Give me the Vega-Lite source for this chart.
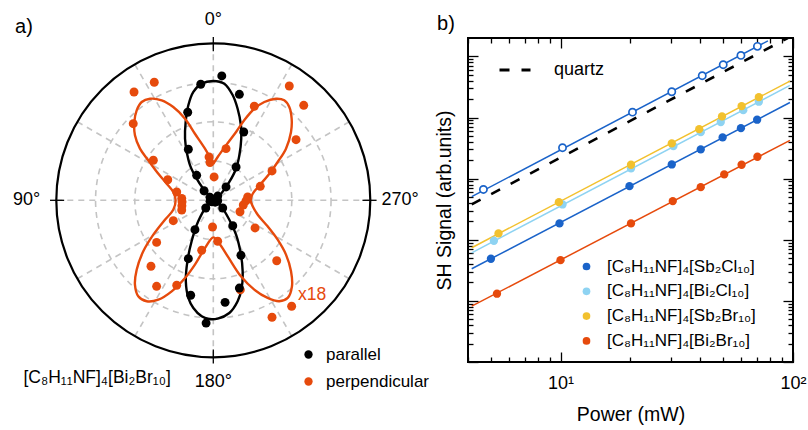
{
  "$schema": "https://vega.github.io/schema/vega-lite/v6.json",
  "width": 325,
  "height": 324,
  "autosize": {"type": "none"},
  "padding": {"left": 468, "top": 38, "right": 15, "bottom": 68},
  "background": "white",
  "config": {
    "font": "Liberation Sans",
    "view": {"stroke": "black", "strokeWidth": 2},
    "axis": {"grid": false, "domain": false, "tickColor": "black", "tickWidth": 1.3, "labelColor": "black", "titleColor": "black", "titleFontWeight": "normal"},
    "legend": {"padding": 0, "labelColor": "black", "labelFont": "Liberation Sans"}
  },
  "resolve": {
    "scale": {"x": "independent", "y": "independent", "color": "independent", "size": "independent"},
    "axis": {"x": "independent", "y": "independent"},
    "legend": {"color": "independent"}
  },
  "datasets": {
    "polarPoints": [
      {"pol": "perpendicular", "x": -0.505, "y": 0.690},
      {"pol": "perpendicular", "x": -0.376, "y": 0.752},
      {"pol": "perpendicular", "x": -0.510, "y": 0.488},
      {"pol": "perpendicular", "x": -0.382, "y": 0.255},
      {"pol": "perpendicular", "x": -0.290, "y": 0.131},
      {"pol": "perpendicular", "x": -0.233, "y": 0.053},
      {"pol": "perpendicular", "x": -0.201, "y": 0.012},
      {"pol": "perpendicular", "x": -0.027, "y": 0.276},
      {"pol": "perpendicular", "x": -0.021, "y": 0.240},
      {"pol": "perpendicular", "x": 0.005, "y": 0.149},
      {"pol": "perpendicular", "x": 0.484, "y": 0.728},
      {"pol": "perpendicular", "x": 0.576, "y": 0.605},
      {"pol": "perpendicular", "x": 0.261, "y": 0.599},
      {"pol": "perpendicular", "x": 0.527, "y": 0.386},
      {"pol": "perpendicular", "x": 0.081, "y": 0.329},
      {"pol": "perpendicular", "x": 0.374, "y": 0.187},
      {"pol": "perpendicular", "x": 0.299, "y": 0.089},
      {"pol": "perpendicular", "x": 0.219, "y": 0.021},
      {"pol": "perpendicular", "x": 0.208, "y": -0.004},
      {"pol": "perpendicular", "x": 0.191, "y": -0.030},
      {"pol": "perpendicular", "x": 0.170, "y": -0.073},
      {"pol": "perpendicular", "x": -0.005, "y": -0.170},
      {"pol": "perpendicular", "x": 0.028, "y": -0.261},
      {"pol": "perpendicular", "x": 0.266, "y": -0.176},
      {"pol": "perpendicular", "x": 0.404, "y": -0.385},
      {"pol": "perpendicular", "x": 0.499, "y": -0.675},
      {"pol": "perpendicular", "x": 0.374, "y": -0.745},
      {"pol": "perpendicular", "x": 0.172, "y": -0.570},
      {"pol": "perpendicular", "x": -0.199, "y": -0.010},
      {"pol": "perpendicular", "x": -0.200, "y": -0.035},
      {"pol": "perpendicular", "x": -0.201, "y": -0.062},
      {"pol": "perpendicular", "x": -0.255, "y": -0.130},
      {"pol": "perpendicular", "x": -0.361, "y": -0.268},
      {"pol": "perpendicular", "x": -0.397, "y": -0.420},
      {"pol": "perpendicular", "x": -0.361, "y": -0.548},
      {"pol": "perpendicular", "x": -0.233, "y": -0.541},
      {"pol": "perpendicular", "x": -0.074, "y": -0.318},
      {"pol": "parallel", "x": -0.080, "y": 0.739},
      {"pol": "parallel", "x": -0.163, "y": 0.561},
      {"pol": "parallel", "x": -0.159, "y": 0.325},
      {"pol": "parallel", "x": -0.106, "y": 0.159},
      {"pol": "parallel", "x": -0.059, "y": 0.061},
      {"pol": "parallel", "x": -0.021, "y": 0.019},
      {"pol": "parallel", "x": 0.054, "y": 0.792},
      {"pol": "parallel", "x": 0.166, "y": 0.675},
      {"pol": "parallel", "x": 0.194, "y": 0.435},
      {"pol": "parallel", "x": 0.145, "y": 0.212},
      {"pol": "parallel", "x": 0.081, "y": 0.085},
      {"pol": "parallel", "x": 0.028, "y": 0.027},
      {"pol": "parallel", "x": -0.021, "y": -0.006},
      {"pol": "parallel", "x": -0.048, "y": -0.049},
      {"pol": "parallel", "x": -0.117, "y": -0.187},
      {"pol": "parallel", "x": -0.159, "y": -0.372},
      {"pol": "parallel", "x": -0.144, "y": -0.605},
      {"pol": "parallel", "x": -0.046, "y": -0.782},
      {"pol": "parallel", "x": 0.028, "y": -0.003},
      {"pol": "parallel", "x": 0.060, "y": -0.049},
      {"pol": "parallel", "x": 0.124, "y": -0.162},
      {"pol": "parallel", "x": 0.176, "y": -0.350},
      {"pol": "parallel", "x": 0.166, "y": -0.559},
      {"pol": "parallel", "x": 0.075, "y": -0.650},
      {"pol": "parallel", "x": 0.004, "y": 0.006},
      {"pol": "parallel", "x": -0.008, "y": -0.010},
      {"pol": "parallel", "x": 0.012, "y": -0.012}
    ],
    "parallelFit": [
      {"lobe": "top", "o": 1, "x": 0.000, "y": 0.000},
      {"lobe": "top", "o": 2, "x": 0.049, "y": 0.042},
      {"lobe": "top", "o": 3, "x": 0.102, "y": 0.117},
      {"lobe": "top", "o": 4, "x": 0.145, "y": 0.201},
      {"lobe": "top", "o": 5, "x": 0.166, "y": 0.287},
      {"lobe": "top", "o": 6, "x": 0.178, "y": 0.392},
      {"lobe": "top", "o": 7, "x": 0.176, "y": 0.478},
      {"lobe": "top", "o": 8, "x": 0.155, "y": 0.583},
      {"lobe": "top", "o": 9, "x": 0.124, "y": 0.669},
      {"lobe": "top", "o": 10, "x": 0.070, "y": 0.743},
      {"lobe": "top", "o": 11, "x": 0.000, "y": 0.760},
      {"lobe": "top", "o": 12, "x": -0.074, "y": 0.743},
      {"lobe": "top", "o": 13, "x": -0.127, "y": 0.690},
      {"lobe": "top", "o": 14, "x": -0.159, "y": 0.605},
      {"lobe": "top", "o": 15, "x": -0.176, "y": 0.499},
      {"lobe": "top", "o": 16, "x": -0.180, "y": 0.392},
      {"lobe": "top", "o": 17, "x": -0.169, "y": 0.308},
      {"lobe": "top", "o": 18, "x": -0.148, "y": 0.223},
      {"lobe": "top", "o": 19, "x": -0.106, "y": 0.138},
      {"lobe": "top", "o": 20, "x": -0.064, "y": 0.074},
      {"lobe": "top", "o": 21, "x": -0.010, "y": 0.010},
      {"lobe": "top", "o": 22, "x": 0.000, "y": 0.000},
      {"lobe": "bottom", "o": 1, "x": 0.000, "y": 0.000},
      {"lobe": "bottom", "o": 2, "x": 0.049, "y": -0.038},
      {"lobe": "bottom", "o": 3, "x": 0.102, "y": -0.124},
      {"lobe": "bottom", "o": 4, "x": 0.145, "y": -0.219},
      {"lobe": "bottom", "o": 5, "x": 0.176, "y": -0.346},
      {"lobe": "bottom", "o": 6, "x": 0.187, "y": -0.452},
      {"lobe": "bottom", "o": 7, "x": 0.181, "y": -0.559},
      {"lobe": "bottom", "o": 8, "x": 0.155, "y": -0.643},
      {"lobe": "bottom", "o": 9, "x": 0.102, "y": -0.718},
      {"lobe": "bottom", "o": 10, "x": 0.028, "y": -0.754},
      {"lobe": "bottom", "o": 11, "x": -0.030, "y": -0.756},
      {"lobe": "bottom", "o": 12, "x": -0.074, "y": -0.739},
      {"lobe": "bottom", "o": 13, "x": -0.127, "y": -0.686},
      {"lobe": "bottom", "o": 14, "x": -0.159, "y": -0.622},
      {"lobe": "bottom", "o": 15, "x": -0.175, "y": -0.516},
      {"lobe": "bottom", "o": 16, "x": -0.165, "y": -0.389},
      {"lobe": "bottom", "o": 17, "x": -0.138, "y": -0.261},
      {"lobe": "bottom", "o": 18, "x": -0.096, "y": -0.134},
      {"lobe": "bottom", "o": 19, "x": -0.042, "y": -0.038},
      {"lobe": "bottom", "o": 20, "x": 0.000, "y": 0.000}
    ],
    "perpendicularFit": [
      {"o": 1, "x": 0.000, "y": 0.232}, {"o": 2, "x": 0.028, "y": 0.276}, {"o": 3, "x": 0.081, "y": 0.350},
      {"o": 4, "x": 0.145, "y": 0.435}, {"o": 5, "x": 0.197, "y": 0.510}, {"o": 6, "x": 0.261, "y": 0.583},
      {"o": 7, "x": 0.325, "y": 0.626}, {"o": 8, "x": 0.399, "y": 0.647}, {"o": 9, "x": 0.452, "y": 0.637},
      {"o": 10, "x": 0.484, "y": 0.594}, {"o": 11, "x": 0.499, "y": 0.520}, {"o": 12, "x": 0.495, "y": 0.435},
      {"o": 13, "x": 0.463, "y": 0.329}, {"o": 14, "x": 0.410, "y": 0.244}, {"o": 15, "x": 0.357, "y": 0.169},
      {"o": 16, "x": 0.304, "y": 0.106}, {"o": 17, "x": 0.251, "y": 0.042}, {"o": 18, "x": 0.238, "y": 0.000},
      {"o": 19, "x": 0.251, "y": -0.038}, {"o": 20, "x": 0.283, "y": -0.092}, {"o": 21, "x": 0.346, "y": -0.166},
      {"o": 22, "x": 0.410, "y": -0.251}, {"o": 23, "x": 0.463, "y": -0.346}, {"o": 24, "x": 0.495, "y": -0.452},
      {"o": 25, "x": 0.501, "y": -0.548}, {"o": 26, "x": 0.474, "y": -0.622}, {"o": 27, "x": 0.420, "y": -0.643},
      {"o": 28, "x": 0.346, "y": -0.622}, {"o": 29, "x": 0.261, "y": -0.569}, {"o": 30, "x": 0.176, "y": -0.484},
      {"o": 31, "x": 0.092, "y": -0.357}, {"o": 32, "x": 0.035, "y": -0.270}, {"o": 33, "x": 0.000, "y": -0.236},
      {"o": 34, "x": -0.053, "y": -0.304}, {"o": 35, "x": -0.117, "y": -0.410}, {"o": 36, "x": -0.180, "y": -0.495},
      {"o": 37, "x": -0.265, "y": -0.580}, {"o": 38, "x": -0.350, "y": -0.633}, {"o": 39, "x": -0.424, "y": -0.643},
      {"o": 40, "x": -0.478, "y": -0.611}, {"o": 41, "x": -0.499, "y": -0.538}, {"o": 42, "x": -0.488, "y": -0.442},
      {"o": 43, "x": -0.446, "y": -0.325}, {"o": 44, "x": -0.382, "y": -0.219}, {"o": 45, "x": -0.308, "y": -0.124},
      {"o": 46, "x": -0.255, "y": -0.060}, {"o": 47, "x": -0.240, "y": 0.000}, {"o": 48, "x": -0.255, "y": 0.053},
      {"o": 49, "x": -0.297, "y": 0.106}, {"o": 50, "x": -0.350, "y": 0.169}, {"o": 51, "x": -0.414, "y": 0.255},
      {"o": 52, "x": -0.467, "y": 0.329}, {"o": 53, "x": -0.499, "y": 0.414}, {"o": 54, "x": -0.503, "y": 0.499},
      {"o": 55, "x": -0.488, "y": 0.573}, {"o": 56, "x": -0.456, "y": 0.626}, {"o": 57, "x": -0.403, "y": 0.647},
      {"o": 58, "x": -0.329, "y": 0.637}, {"o": 59, "x": -0.255, "y": 0.594}, {"o": 60, "x": -0.180, "y": 0.520},
      {"o": 61, "x": -0.117, "y": 0.424}, {"o": 62, "x": -0.053, "y": 0.329}, {"o": 63, "x": -0.015, "y": 0.262},
      {"o": 64, "x": 0.000, "y": 0.232}
    ],
    "shgPoints": [
      {"compound": "[C₈H₁₁NF]₄[Sb₂Cl₁₀]", "P": 5.02, "S": 48.9},
      {"compound": "[C₈H₁₁NF]₄[Sb₂Cl₁₀]", "P": 9.90, "S": 185},
      {"compound": "[C₈H₁₁NF]₄[Sb₂Cl₁₀]", "P": 19.8, "S": 754},
      {"compound": "[C₈H₁₁NF]₄[Sb₂Cl₁₀]", "P": 30.1, "S": 1706},
      {"compound": "[C₈H₁₁NF]₄[Sb₂Cl₁₀]", "P": 40.1, "S": 3006},
      {"compound": "[C₈H₁₁NF]₄[Sb₂Cl₁₀]", "P": 49.8, "S": 4722},
      {"compound": "[C₈H₁₁NF]₄[Sb₂Cl₁₀]", "P": 59.7, "S": 6700},
      {"compound": "[C₈H₁₁NF]₄[Sb₂Cl₁₀]", "P": 70.1, "S": 9204},
      {"compound": "[C₈H₁₁NF]₄[Bi₂Cl₁₀]", "P": 5.17, "S": 96.3},
      {"compound": "[C₈H₁₁NF]₄[Bi₂Cl₁₀]", "P": 10.2, "S": 378},
      {"compound": "[C₈H₁₁NF]₄[Bi₂Cl₁₀]", "P": 20.1, "S": 1469},
      {"compound": "[C₈H₁₁NF]₄[Bi₂Cl₁₀]", "P": 30.6, "S": 3404},
      {"compound": "[C₈H₁₁NF]₄[Bi₂Cl₁₀]", "P": 40.1, "S": 5768},
      {"compound": "[C₈H₁₁NF]₄[Bi₂Cl₁₀]", "P": 48.9, "S": 8414},
      {"compound": "[C₈H₁₁NF]₄[Bi₂Cl₁₀]", "P": 61.1, "S": 13210},
      {"compound": "[C₈H₁₁NF]₄[Bi₂Cl₁₀]", "P": 71.3, "S": 18150},
      {"compound": "[C₈H₁₁NF]₄[Sb₂Br₁₀]", "P": 5.41, "S": 127},
      {"compound": "[C₈H₁₁NF]₄[Sb₂Br₁₀]", "P": 9.84, "S": 412},
      {"compound": "[C₈H₁₁NF]₄[Sb₂Br₁₀]", "P": 20.1, "S": 1687},
      {"compound": "[C₈H₁₁NF]₄[Sb₂Br₁₀]", "P": 30.1, "S": 3767},
      {"compound": "[C₈H₁₁NF]₄[Sb₂Br₁₀]", "P": 39.5, "S": 6457},
      {"compound": "[C₈H₁₁NF]₄[Sb₂Br₁₀]", "P": 49.5, "S": 10420},
      {"compound": "[C₈H₁₁NF]₄[Sb₂Br₁₀]", "P": 60.1, "S": 15380},
      {"compound": "[C₈H₁₁NF]₄[Sb₂Br₁₀]", "P": 71.3, "S": 21570},
      {"compound": "[C₈H₁₁NF]₄[Bi₂Br₁₀]", "P": 5.33, "S": 13.1},
      {"compound": "[C₈H₁₁NF]₄[Bi₂Br₁₀]", "P": 10.0, "S": 46.4},
      {"compound": "[C₈H₁₁NF]₄[Bi₂Br₁₀]", "P": 20.1, "S": 185},
      {"compound": "[C₈H₁₁NF]₄[Bi₂Br₁₀]", "P": 30.4, "S": 429},
      {"compound": "[C₈H₁₁NF]₄[Bi₂Br₁₀]", "P": 40.1, "S": 726},
      {"compound": "[C₈H₁₁NF]₄[Bi₂Br₁₀]", "P": 50.6, "S": 1172},
      {"compound": "[C₈H₁₁NF]₄[Bi₂Br₁₀]", "P": 60.1, "S": 1687},
      {"compound": "[C₈H₁₁NF]₄[Bi₂Br₁₀]", "P": 70.3, "S": 2280}
    ],
    "shgFits": [
      {"compound": "[C₈H₁₁NF]₄[Sb₂Cl₁₀]", "P": 4.15, "S": 33.5},
      {"compound": "[C₈H₁₁NF]₄[Sb₂Cl₁₀]", "P": 97, "S": 17600},
      {"compound": "[C₈H₁₁NF]₄[Bi₂Cl₁₀]", "P": 4.15, "S": 61.2},
      {"compound": "[C₈H₁₁NF]₄[Bi₂Cl₁₀]", "P": 97, "S": 33500},
      {"compound": "[C₈H₁₁NF]₄[Sb₂Br₁₀]", "P": 4.15, "S": 74.0},
      {"compound": "[C₈H₁₁NF]₄[Sb₂Br₁₀]", "P": 97, "S": 39400},
      {"compound": "[C₈H₁₁NF]₄[Bi₂Br₁₀]", "P": 4.15, "S": 8.19},
      {"compound": "[C₈H₁₁NF]₄[Bi₂Br₁₀]", "P": 97, "S": 4220}
    ],
    "openPoints": [
      {"P": 4.66, "S": 665}, {"P": 10.2, "S": 3206}, {"P": 20.4, "S": 12240}, {"P": 30.1, "S": 26420},
      {"P": 40.7, "S": 48300}, {"P": 50.1, "S": 73100}, {"P": 59.7, "S": 103800}, {"P": 70.3, "S": 145900}
    ],
    "openFit": [{"P": 4.15, "S": 508}, {"P": 78, "S": 179500}],
    "quartzFit": [{"ref": "quartz", "P": 4.15, "S": 380}, {"ref": "quartz", "P": 95, "S": 200000}]
  },
  "layer": [
    {
      "encoding": {
        "x": {"field": "x", "type": "quantitative", "scale": {"domain": [-1, 1], "range": [-411.7, -97.7], "nice": false, "zero": false}, "axis": null},
        "y": {"field": "y", "type": "quantitative", "scale": {"domain": [-1, 1], "range": [319.3, 5.3], "nice": false, "zero": false}, "axis": null}
      },
      "layer": [
        {
          "data": {"values": [{"x": 0, "y": 0, "r": 0.25}, {"x": 0, "y": 0, "r": 0.5}, {"x": 0, "y": 0, "r": 0.75}]},
          "mark": {"type": "point", "shape": "circle", "filled": false, "color": "#c4c4c4", "strokeWidth": 1.6, "strokeDash": [6, 5], "opacity": 1},
          "encoding": {
            "size": {"field": "r", "type": "quantitative", "scale": {"type": "pow", "exponent": 2, "domain": [0, 1], "range": [0, 98596], "zero": true}, "legend": null}
          }
        },
        {
          "data": {"values": [
            {"x": 0, "y": 1, "x2": 0, "y2": -1},
            {"x": -0.5, "y": 0.866, "x2": 0.5, "y2": -0.866},
            {"x": -0.866, "y": 0.5, "x2": 0.866, "y2": -0.5},
            {"x": -1, "y": 0, "x2": 1, "y2": 0},
            {"x": -0.866, "y": -0.5, "x2": 0.866, "y2": 0.5},
            {"x": -0.5, "y": -0.866, "x2": 0.5, "y2": 0.866}
          ]},
          "mark": {"type": "rule", "color": "#c4c4c4", "strokeWidth": 1.6, "strokeDash": [6, 5]},
          "encoding": {"x2": {"field": "x2"}, "y2": {"field": "y2"}}
        },
        {
          "data": {"values": [{"x": 0, "y": 0, "r": 1}]},
          "mark": {"type": "point", "shape": "circle", "filled": false, "color": "black", "strokeWidth": 2.2, "opacity": 1},
          "encoding": {
            "size": {"field": "r", "type": "quantitative", "legend": null}
          }
        },
        {
          "data": {"values": [
            {"x": 0, "y": 0.95, "x2": 0, "y2": 1.04},
            {"x": 0, "y": -0.95, "x2": 0, "y2": -1.04},
            {"x": -0.95, "y": 0, "x2": -1.04, "y2": 0},
            {"x": 0.95, "y": 0, "x2": 1.04, "y2": 0}
          ]},
          "mark": {"type": "rule", "color": "black", "strokeWidth": 1.3},
          "encoding": {"x2": {"field": "x2"}, "y2": {"field": "y2"}}
        },
        {
          "data": {"name": "parallelFit"},
          "mark": {"type": "line", "color": "black", "strokeWidth": 2.4, "interpolate": "catmull-rom"},
          "encoding": {"detail": {"field": "lobe"}, "order": {"field": "o", "type": "quantitative"}}
        },
        {
          "data": {"name": "perpendicularFit"},
          "mark": {"type": "line", "color": "#e64a0c", "strokeWidth": 2.4, "interpolate": "catmull-rom"},
          "encoding": {"order": {"field": "o", "type": "quantitative"}}
        },
        {
          "data": {"name": "polarPoints"},
          "mark": {"type": "point", "filled": true, "size": 80, "opacity": 1, "shape": "circle"},
          "encoding": {
            "color": {"field": "pol", "type": "nominal",
              "scale": {"domain": ["parallel", "perpendicular"], "range": ["#000000", "#e64a0c"]},
              "legend": {"title": null, "orient": "none", "legendX": -168, "legendY": 308, "labelFontSize": 17, "symbolSize": 69, "symbolType": "circle", "rowPadding": 9, "labelOffset": 9, "symbolStrokeWidth": 0}}
          }
        },
        {
          "data": {"values": [
            {"x": 0, "y": 1.148, "t": "0°"},
            {"x": -1.189, "y": 0, "t": "90°"},
            {"x": 0, "y": -1.157, "t": "180°"},
            {"x": 1.19, "y": 0, "t": "270°"}
          ]},
          "mark": {"type": "text", "fontSize": 18, "align": "center", "baseline": "middle", "color": "black"},
          "encoding": {"text": {"field": "t"}}
        },
        {
          "data": {"values": [
            {"x": -1.206, "y": 1.101, "t": "a)"},
            {"x": 1.482, "y": 1.123, "t": "b)"}
          ]},
          "mark": {"type": "text", "fontSize": 20, "align": "center", "baseline": "middle", "color": "black"},
          "encoding": {"text": {"field": "t"}}
        },
        {
          "data": {"values": [{"x": 0.629, "y": -0.603, "t": "x18"}]},
          "mark": {"type": "text", "fontSize": 17.5, "align": "center", "baseline": "middle", "color": "#e64a0c"},
          "encoding": {"text": {"field": "t"}}
        },
        {
          "data": {"values": [{"x": -0.740, "y": -1.129, "t": "[C₈H₁₁NF]₄[Bi₂Br₁₀]"}]},
          "mark": {"type": "text", "fontSize": 17.5, "align": "center", "baseline": "middle", "color": "black"},
          "encoding": {"text": {"field": "t"}}
        }
      ]
    },
    {
      "resolve": {"axis": {"x": "independent", "y": "independent"}},
      "layer": [
        {
          "data": {"name": "shgFits"},
          "mark": {"type": "line", "strokeWidth": 1.5, "clip": true},
          "encoding": {
            "x": {"field": "P", "type": "quantitative", "scale": {"type": "log", "domain": [4, 100], "nice": false},
              "axis": {"orient": "top", "values": [4, 5, 6, 7, 8, 9, 10, 20, 30, 40, 50, 60, 70, 80, 90, 100], "labels": false, "title": null,
                "tickSize": {"condition": {"test": "datum.value == 10 || datum.value == 100", "value": -10}, "value": -5}}},
            "y": {"field": "S", "type": "quantitative", "scale": {"type": "log", "domain": [1, 200000], "nice": false},
              "axis": {"orient": "right", "values": [1, 2, 3, 4, 5, 6, 7, 8, 9, 10, 20, 30, 40, 50, 60, 70, 80, 90, 100, 200, 300, 400, 500, 600, 700, 800, 900, 1000, 2000, 3000, 4000, 5000, 6000, 7000, 8000, 9000, 10000, 20000, 30000, 40000, 50000, 60000, 70000, 80000, 90000, 100000], "labels": false, "title": null,
                "tickSize": {"condition": {"test": "indexof([1,10,100,1000,10000,100000], datum.value) >= 0", "value": -10}, "value": -5}}},
            "stroke": {"field": "compound", "type": "nominal",
              "scale": {"domain": ["[C₈H₁₁NF]₄[Sb₂Cl₁₀]", "[C₈H₁₁NF]₄[Bi₂Cl₁₀]", "[C₈H₁₁NF]₄[Sb₂Br₁₀]", "[C₈H₁₁NF]₄[Bi₂Br₁₀]"], "range": ["#1a63c9", "#8ed3f2", "#f2c12e", "#e64a0c"]},
              "legend": null}
          }
        },
        {
          "data": {"name": "quartzFit"},
          "mark": {"type": "line", "strokeWidth": 2.6, "color": "black", "clip": true},
          "encoding": {
            "x": {"field": "P", "type": "quantitative", "axis": null},
            "y": {"field": "S", "type": "quantitative", "axis": null},
            "strokeDash": {"field": "ref", "type": "nominal", "scale": {"domain": ["quartz"], "range": [[10, 12]]},
              "legend": {"title": null, "orient": "none", "legendX": 30, "legendY": 15, "symbolType": "stroke", "symbolSize": 961, "symbolStrokeWidth": 3, "symbolStrokeColor": "black", "labelFontSize": 18, "labelOffset": 22}}
          }
        },
        {
          "data": {"name": "openFit"},
          "mark": {"type": "line", "strokeWidth": 1.5, "color": "#1a63c9", "clip": true},
          "encoding": {
            "x": {"field": "P", "type": "quantitative", "axis": null},
            "y": {"field": "S", "type": "quantitative", "axis": null}
          }
        },
        {
          "data": {"name": "openPoints"},
          "mark": {"type": "point", "shape": "circle", "filled": false, "fill": "white", "stroke": "#1a63c9", "strokeWidth": 1.7, "size": 52, "opacity": 1},
          "encoding": {
            "x": {"field": "P", "type": "quantitative", "axis": null},
            "y": {"field": "S", "type": "quantitative", "axis": null}
          }
        },
        {
          "data": {"name": "shgPoints"},
          "mark": {"type": "point", "shape": "circle", "filled": true, "size": 69, "opacity": 1},
          "encoding": {
            "x": {"field": "P", "type": "quantitative",
              "axis": {"orient": "bottom", "values": [4, 5, 6, 7, 8, 9, 10, 20, 30, 40, 50, 60, 70, 80, 90, 100],
                "labelExpr": "datum.value == 10 ? '10¹' : datum.value == 100 ? '10²' : ''", "labelFontSize": 18, "labelPadding": 22, "labelFlush": false, "labelOverlap": false,
                "title": "Power (mW)", "titleFontSize": 19.5, "titlePadding": 8,
                "tickSize": {"condition": {"test": "datum.value == 10 || datum.value == 100", "value": -10}, "value": -5}}},
            "y": {"field": "S", "type": "quantitative",
              "axis": {"orient": "left", "values": [1, 2, 3, 4, 5, 6, 7, 8, 9, 10, 20, 30, 40, 50, 60, 70, 80, 90, 100, 200, 300, 400, 500, 600, 700, 800, 900, 1000, 2000, 3000, 4000, 5000, 6000, 7000, 8000, 9000, 10000, 20000, 30000, 40000, 50000, 60000, 70000, 80000, 90000, 100000], "labels": false,
                "title": "SH Signal (arb.units)", "titleFontSize": 19.5, "titlePadding": 13,
                "tickSize": {"condition": {"test": "indexof([1,10,100,1000,10000,100000], datum.value) >= 0", "value": -10}, "value": -5}}},
            "color": {"field": "compound", "type": "nominal",
              "scale": {"domain": ["[C₈H₁₁NF]₄[Sb₂Cl₁₀]", "[C₈H₁₁NF]₄[Bi₂Cl₁₀]", "[C₈H₁₁NF]₄[Sb₂Br₁₀]", "[C₈H₁₁NF]₄[Bi₂Br₁₀]"], "range": ["#1a63c9", "#8ed3f2", "#f2c12e", "#e64a0c"]},
              "legend": {"title": null, "orient": "none", "legendX": 110, "legendY": 220, "labelFontSize": 17, "symbolSize": 59, "symbolType": "circle", "rowPadding": 6.8, "labelOffset": 12, "symbolStrokeWidth": 0}}
          }
        }
      ]
    }
  ]
}
